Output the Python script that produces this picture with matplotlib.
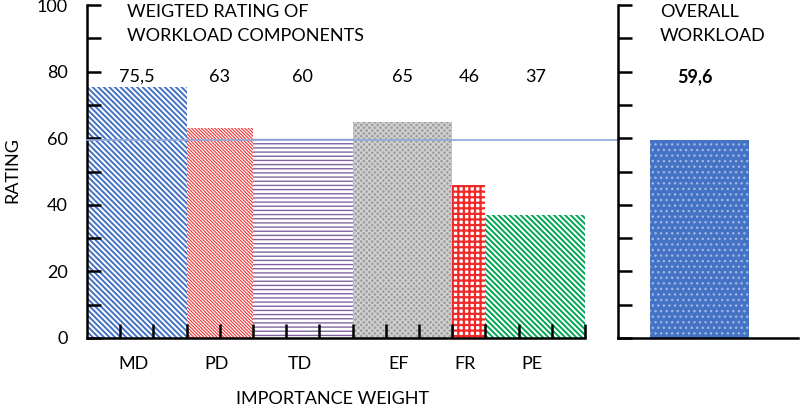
import matplotlib
matplotlib.use("Agg")
import matplotlib.pyplot as plt
import numpy as np

plt.rcParams['font.family'] = ['Lato', 'DejaVu Sans']

categories = ["MD", "PD", "TD", "EF", "FR", "PE"]
ratings = [75.5, 63, 60, 65, 46, 37]
rating_labels = ["75,5", "63", "60", "65", "46", "37"]
weights = [3, 2, 3, 3, 1, 3]
overall = 59.6
overall_label = "59,6"

face = ['white', 'white', 'white', '#A0A0A0', 'white', 'white']
hatchc = ['#4472C4', '#F03434', '#8064A2', '#D2D2D2', '#F02828', '#00A651']
hatches = ['\\' * 6, '\\' * 10, '----', 'xxxxxx', '+++', '\\' * 6]
hlw = [1.4, 0.8, 1.0, 1.0, 1.6, 1.4]

W, H = 800, 407
fig = plt.figure(figsize=(8, 4.07), dpi=100)
x0, x1, y0, y1 = 87, 585, 338, 5
ax = fig.add_axes([x0 / W, (H - y0) / H, (x1 - x0) / W, (y0 - y1) / H])
total = sum(weights)
ax.set_xlim(0, total)
ax.set_ylim(0, 100)

lefts = np.concatenate([[0], np.cumsum(weights)[:-1]])
centers = lefts + np.array(weights) / 2
for i in range(len(categories)):
    with plt.rc_context({'hatch.linewidth': hlw[i]}):
        b = ax.bar(lefts[i], ratings[i], width=weights[i], align='edge',
                   facecolor=face[i], edgecolor=hatchc[i], hatch=hatches[i],
                   linewidth=0, zorder=1)
        for p in b:
            if hasattr(p, 'set_hatch_linewidth'):
                p.set_hatch_linewidth(hlw[i])
    ax.text(centers[i], 78.5, rating_labels[i], ha='center', va='center', fontsize=13)
    ax.text(centers[i] - 0.1, -7.8, categories[i], ha='center', va='center', fontsize=13)

for s in ['top', 'right']:
    ax.spines[s].set_visible(False)
for s in ['left', 'bottom']:
    ax.spines[s].set_linewidth(1.8)
ax.set_yticks(np.arange(0, 101, 20))
ax.set_yticks(np.arange(10, 100, 20), minor=True)
ax.set_xticks(np.arange(1, total + 1))
ax.set_xticklabels([])
ax.tick_params(axis='y', which='both', direction='in', length=10, width=1.8, pad=14, labelsize=13)
ax.tick_params(axis='x', which='both', direction='in', length=10, width=1.8)

ax.text(-2.26, 50.4, "RATING", rotation=90, ha='center', va='center', fontsize=13)
ax.text(7.4, -18.3, "IMPORTANCE WEIGHT", ha='center', va='center', fontsize=13)
ax.text(1.2, 100.3, "WEIGTED RATING OF\nWORKLOAD COMPONENTS", ha='left', va='top',
        fontsize=13, linespacing=1.65)

# reference line
xr = (618 - x0) / 33.2
ax.plot([0, xr], [overall, overall], color='#8EA9DB', lw=1.2, zorder=5, clip_on=False)

# right panel
rx0, rx1 = 618, 798
ax2 = fig.add_axes([rx0 / W, (H - y0) / H, (rx1 - rx0) / W, (y0 - y1) / H])
ax2.set_xlim(0, (rx1 - rx0) / 33.2)
ax2.set_ylim(0, 100)
with plt.rc_context({'hatch.linewidth': 1.0}):
    b2 = ax2.bar(0.96, overall, width=3, align='edge', facecolor='#4472C4',
                 edgecolor='#9FB5E2', hatch='...', linewidth=0)
    for p in b2:
        if hasattr(p, 'set_hatch_linewidth'):
            p.set_hatch_linewidth(1.0)
for s in ['top', 'right']:
    ax2.spines[s].set_visible(False)
for s in ['left', 'bottom']:
    ax2.spines[s].set_linewidth(1.8)
ax2.set_yticks(np.arange(0, 101, 10))
ax2.set_yticklabels([])
ax2.set_xticks([])
ax2.tick_params(axis='y', direction='in', length=10, width=1.8)
ax2.text(1.27, 100.3, "OVERALL\nWORKLOAD", ha='left', va='top', fontsize=13, linespacing=1.65)
ax2.text(2.33, 78.5, overall_label, ha='center', va='center', fontsize=13, fontweight='bold')

fig.savefig("out.png", dpi=100)
